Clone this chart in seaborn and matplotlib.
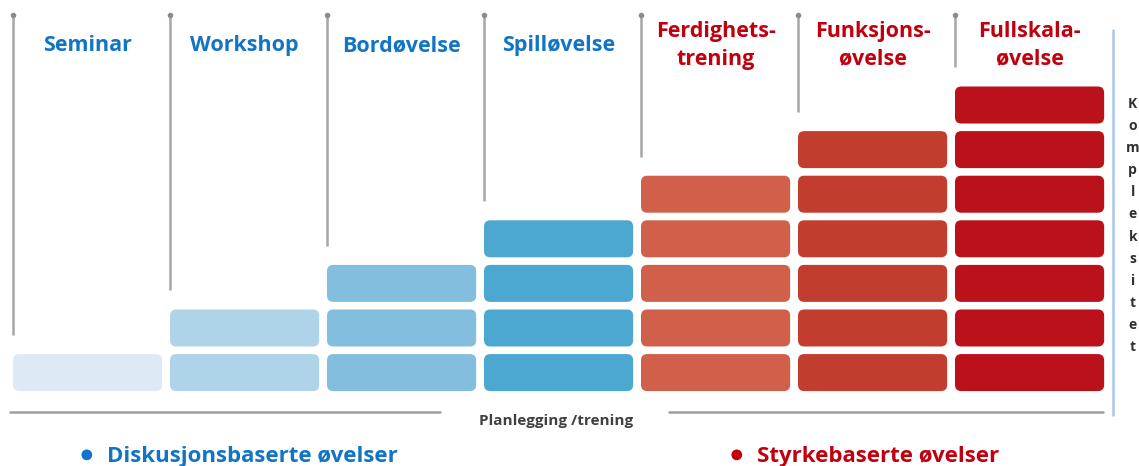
import matplotlib.pyplot as plt
import seaborn as sns
from matplotlib.patches import FancyBboxPatch

# Exercise types, left to right, and how many complexity steps each has
labels = ["Seminar", "Workshop", "Bordøvelse", "Spilløvelse",
          "Ferdighets-\ntrening", "Funksjons-\nøvelse", "Fullskala-\nøvelse"]
levels = [1, 2, 3, 4, 5, 6, 7]
groups = ["disk", "disk", "disk", "disk", "styrke", "styrke", "styrke"]
block_colors = ["#DDEAF5", "#AFD3E8", "#83BEDE", "#4CA8D0",
                "#D0604A", "#C33D2E", "#BB111A"]
legend_labels = {"disk": "Diskusjonsbaserte øvelser", "styrke": "Styrkebaserte øvelser"}
text_colors = {"disk": "#1274C4", "styrke": "#C0000F"}
axis_x_label = "Planlegging /trening"
axis_y_label = "Kompleksitet"

sns.set_theme(style="white")
plt.rcParams['font.family'] = ['Open Sans', 'DejaVu Sans']

fig = plt.figure(figsize=(11.39, 4.66), dpi=100)
ax = fig.add_axes([0, 0, 1, 1])
# one column = 1 unit wide, one block row = 1 unit high
ax.set_xlim(-0.083, 7.172)
ax.set_ylim(-1.68, 8.77)
ax.axis("off")

bw, bh = 0.95, 0.83
for i, (lab, lev, grp, col) in enumerate(zip(labels, levels, groups, block_colors)):
    for j in range(lev):
        box = FancyBboxPatch((i, j), bw, bh,
                             boxstyle="round,pad=0,rounding_size=0.04",
                             mutation_aspect=3.5, fc=col, ec="none")
        ax.add_patch(box)
    # gray guide line from the top down to just above the stack
    ax.plot([i, i], [lev + 0.26, 8.43], color="#A6A6A6", lw=1.8,
            solid_capstyle="butt")
    ax.plot([i], [8.43], marker="o", ms=3, color="#8C8C8C")
    ax.text(i + bw / 2, 7.75, lab, ha="center", va="center",
            fontsize=15.5, fontweight="bold", color=text_colors[grp],
            linespacing=1.38)

# x axis: planning/training
ax.plot([-0.02, 2.72], [-0.47, -0.47], color="#A0A0A0", lw=1.8)
ax.plot([4.18, 6.94], [-0.47, -0.47], color="#A0A0A0", lw=1.8)
ax.text(3.46, -0.66, axis_x_label, ha="center", va="center",
        fontsize=11, fontweight="bold", color="#404040")

# y axis: complexity
ax.plot([7.006, 7.006], [-0.54, 8.09], color="#A9C8EA", lw=1.8)
ax.text(7.132, 6.6, "\n".join(axis_y_label), ha="center", va="top",
        fontsize=10, fontweight="bold", color="#303030", linespacing=1.74)

# legend dots
for x0, grp in [(0.47, "disk"), (4.61, "styrke")]:
    sns.scatterplot(x=[x0], y=[-1.43], color=text_colors[grp], s=60,
                    edgecolor="none", ax=ax, legend=False)
    ax.text(x0 + 0.13, -1.46, legend_labels[grp], ha="left", va="center",
            fontsize=16, fontweight="bold", color=text_colors[grp])

fig.savefig("out.png", dpi=100)
